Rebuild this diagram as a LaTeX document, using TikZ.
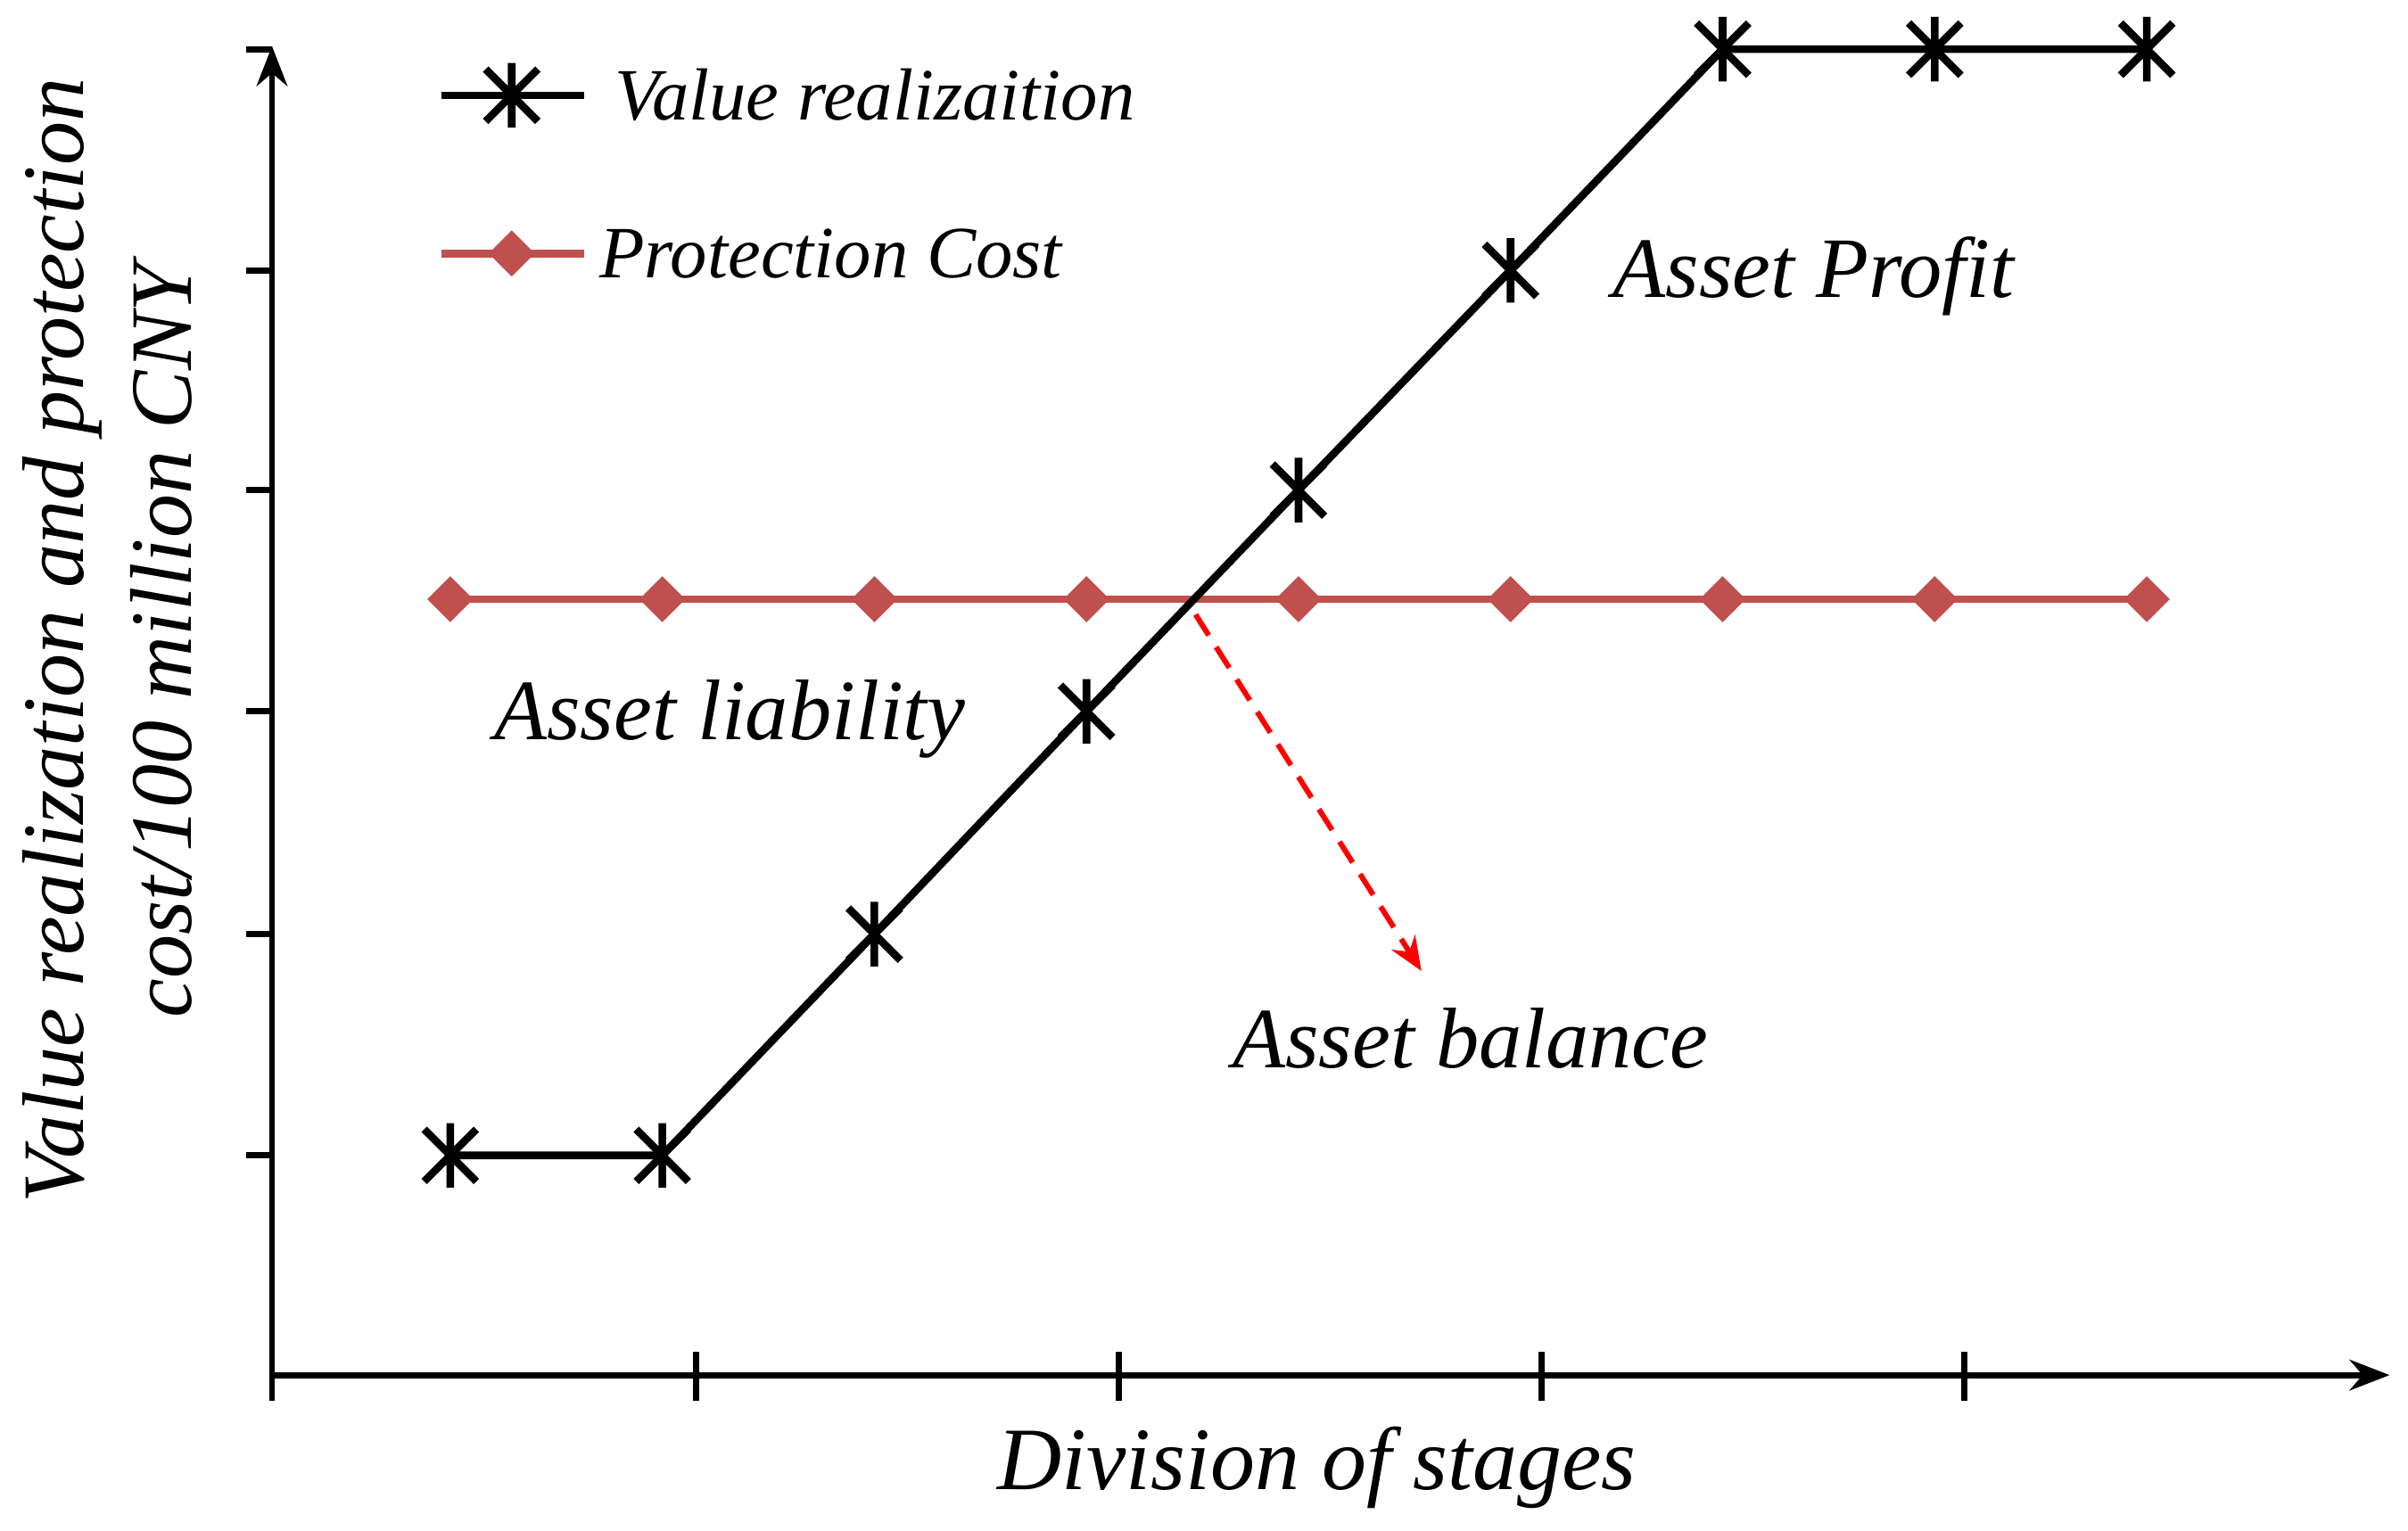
\documentclass[tikz,border=0pt]{standalone}
\usepackage{fontspec}
\setmainfont{Liberation Serif}
\usetikzlibrary{arrows.meta}
\begin{document}
\begin{tikzpicture}[x=1pt,y=-1pt,
  axis/.style={line width=4pt},
  vline/.style={line width=5pt,black},
  cline/.style={line width=5pt,color=redc},
  lbl/.style={font=\itshape\fontsize{56}{64}\selectfont,inner sep=0},
  leg/.style={font=\itshape\fontsize{48}{56}\selectfont,inner sep=0,anchor=west}]
\definecolor{redc}{RGB}{192,80,77}
\useasboundingbox (0,0) rectangle (1567,996);
\newcommand{\starmark}[1]{\draw[line width=5pt,black] #1 +(-17,-17) -- +(17,17) #1 +(-17,17) -- +(17,-17) #1 +(0,-21) -- +(0,21);}
\newcommand{\diamark}[1]{\fill[redc] #1 +(-15,0) -- +(0,-15) -- +(15,0) -- +(0,15) -- cycle;}
% axes
\coordinate (o) at (177,895);
\coordinate (ytop) at (177,30);
\coordinate (xend) at (1555,895);
\draw[axis,-{Stealth[length=26pt,width=20pt]}] (o) -- (ytop);
\draw[axis,-{Stealth[length=26pt,width=20pt]}] (o) -- (xend);
\foreach \x in {177,453,728,1003,1278} \draw[axis] (\x,880) -- (\x,912);
\foreach \y in {752,608,463,319,176,32} \draw[axis] (160,\y) -- (177,\y);
% cost line
\draw[cline] (293,390) coordinate (c1) -- (1397,390) coordinate (c9);
\foreach \x in {293,431,569,707,845,983,1121,1259,1397} {\diamark{(\x,390)}}
% value line
\draw[vline] (293,752) -- (431,752) -- (569,608) -- (707,463) -- (845,319) -- (983,176) -- (1121,32) -- (1259,32) -- (1397,32);
\foreach \x/\y in {293/752,431/752,569/608,707/463,845/319,983/176,1121/32,1259/32,1397/32} {\starmark{(\x,\y)}}
% arrow
\coordinate (bs) at (778,400);
\coordinate (be) at (925,632);
\draw[red,line width=3.5pt,dashed,dash pattern=on 16pt off 9pt,-{Stealth[length=22pt,width=18pt]}] (bs) -- (be);
% legend
\draw[vline] (287,62) -- (380,62); \starmark{(333,62)}
\node[leg] (l1) at (400,62) {Value realizaition};
\draw[cline] (287,165) -- (380,165); \diamark{(333,165)}
\node[leg] (l2) at (390,165) {Protection Cost};
% labels
\node[lbl] (ap) at (1180,180) {Asset Profit};
\node[lbl] (al) at (475,468) {Asset liability};
\node[lbl] (ab) at (957,676) {Asset balance};
\node[lbl,font=\itshape\fontsize{58}{66}\selectfont] (xl) at (857,955) {Division of stages};
\node[lbl,rotate=90,align=center,font=\itshape\fontsize{57}{70}\selectfont] (yl) at (70,417) {Value realization and protection\\cost/100 million CNY};
\end{tikzpicture}
\end{document}
